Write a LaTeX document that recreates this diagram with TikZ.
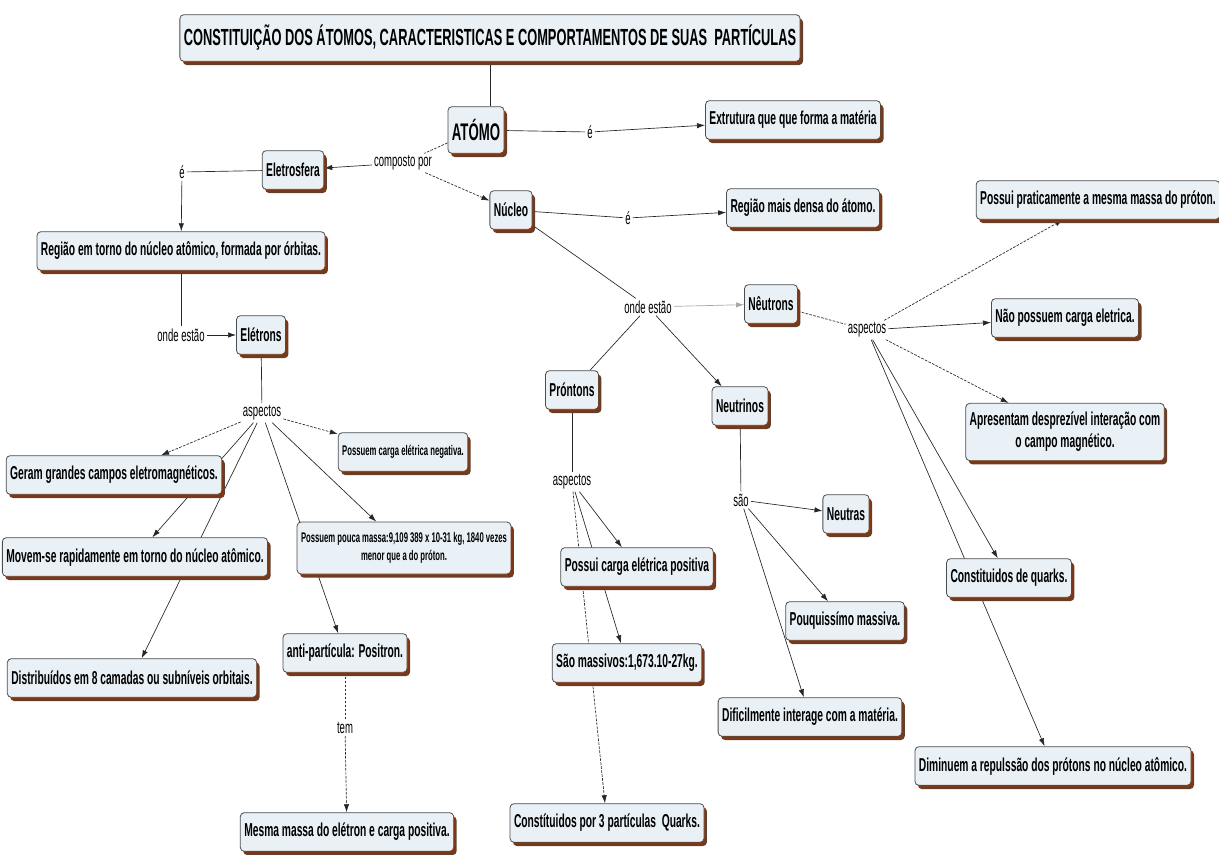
\documentclass[tikz,border=0pt]{standalone}
\usepackage{fontspec}
\setmainfont{Liberation Sans}[FakeStretch=0.55]
\usetikzlibrary{positioning, arrows.meta, shadows}
\definecolor{boxfill}{RGB}{234,241,246}
\definecolor{shadebrown}{RGB}{122,56,22}
\pgfdeclarelayer{bg}
\pgfsetlayers{bg,main}

\begin{document}
\begin{tikzpicture}[x=0.75pt, y=-0.75pt,
    concept/.style={draw=black!70, line width=0.6pt, fill=boxfill,
                    rounded corners=3pt, align=center,
                    drop shadow={shadow xshift=2.2pt, shadow yshift=-2.8pt,
                                 fill=shadebrown, opacity=1},
                    font=\bfseries\fontsize{14}{16.5}\selectfont,
                    inner xsep=3pt, minimum height=29pt},
    smallc/.style={concept, font=\bfseries\fontsize{10.5}{13}\selectfont},
    phrase/.style={font=\fontsize{13}{15}\selectfont, inner sep=1.5pt},
    link/.style={line width=0.5pt, black!85},
    dlink/.style={link, dash pattern=on 2pt off 1pt},
    arw/.style={-{Latex[length=6pt,width=4pt]}},
]
\useasboundingbox (0,0) rectangle (1219,854);

% --- Concepts ---
\node[concept, minimum height=35pt, font=\bfseries\fontsize{17.5}{20}\selectfont]
    (title) at (490, 38)
    {CONSTITUIÇÃO DOS ÁTOMOS, CARACTERISTICAS E COMPORTAMENTOS DE SUAS\ \ PARTÍCULAS};
\node[concept, minimum height=35pt, font=\bfseries\fontsize{18}{20}\selectfont]
    (atomo) at (476, 130) {ATÓMO};
\node[concept] (extrutura) at (793, 120) {Extrutura que que forma a matéria};
\node[concept] (eletrosfera) at (293, 170) {Eletrosfera};
\node[concept] (nucleo) at (511, 210) {Núcleo};
\node[concept] (regdensa) at (803, 208) {Região mais densa do átomo.};
\node[concept] (regiao) at (181, 251)
    {Região em torno do núcleo atômico, formada por órbitas.};
\node[concept] (eletrons) at (261, 335) {Elétrons};
\node[concept] (geram) at (114, 475) {Geram grandes campos eletromagnéticos.};
\node[smallc] (negativa) at (403, 452) {Possuem carga elétrica negativa.};
\node[smallc, minimum height=39pt] (poucamassa) at (404, 548)
    {Possuem pouca massa:9,109 389 x 10-31 kg, 1840 vezes\\menor que a do próton.};
\node[concept] (movem) at (135, 557)
    {Movem-se rapidamente em torno do núcleo atômico.};
\node[concept] (distrib) at (132, 678)
    {Distribuídos em 8 camadas ou subníveis orbitais.};
\node[concept] (anti) at (345, 653) {anti-partícula: Positron.};
\node[concept] (mesma) at (347, 832) {Mesma massa do elétron e carga positiva.};
\node[concept] (neutrons) at (771, 304) {Nêutrons};
\node[concept] (praticamente) at (1098, 200)
    {Possui praticamente a mesma massa do próton.};
\node[concept] (naocarga) at (1065, 318) {Não possuem carga eletrica.};
\node[concept, minimum height=43pt] (apresentam) at (1065, 432)
    {Apresentam desprezível interação com\\o campo magnético.};
\node[concept] (quarks) at (1009, 578) {Constituidos de quarks.};
\node[concept] (diminuem) at (1053, 766)
    {Diminuem a repulssão dos prótons no núcleo atômico.};
\node[concept] (protons) at (572, 390) {Pr\'ontons};
\node[concept] (neutrinos) at (740, 406) {Neutrinos};
\node[concept] (poscarga) at (637, 567) {Possui carga elétrica positiva};
\node[concept] (massivos) at (627, 663) {São massivos:1,673.10-27kg.};
\node[concept] (constit) at (607, 823) {Constítuidos por 3 partículas\ \ Quarks.};
\node[concept] (neutras) at (846, 514) {Neutras};
\node[concept] (pouquissimo) at (845, 621) {Pouquissímo massiva.};
\node[concept] (dificil) at (810, 717) {Dificilmente interage com a matéria.};

% --- Linking phrases ---
\node[phrase] (eA) at (590, 132) {é};
\node[phrase] (composto) at (403, 163) {composto por};
\node[phrase] (eE) at (182, 172) {é};
\node[phrase] (eN) at (628, 218) {é};
\node[phrase] (ondeL) at (181, 335) {onde estão};
\node[phrase] (aspL) at (262, 413) {aspectos};
\node[phrase] (tem) at (345, 728) {tem};
\node[phrase] (ondeR) at (648, 307) {onde estão};
\node[phrase] (aspR) at (867, 330) {aspectos};
\node[phrase] (aspP) at (572, 482) {aspectos};
\node[phrase] (sao) at (741, 500) {são};

% --- Connectors ---
\begin{pgfonlayer}{bg}
\draw[link] (title.south) -- (title.south |- atomo.north);
\draw[link] (atomo) -- (eA);
\draw[link, arw] (eA) -- (extrutura);
\draw[dlink] (atomo) -- (composto);
\draw[link, arw] (composto) -- (eletrosfera);
\draw[dlink, arw] (composto) -- (nucleo);
\draw[link] (eletrosfera) -- (eE);
\draw[link, arw] (eE) -- (regiao);
\draw[link] (regiao) -- (ondeL);
\draw[link, arw] (ondeL) -- (eletrons);
\draw[link] (eletrons) -- (aspL);
\draw[dlink, arw] (aspL) -- (geram);
\draw[dlink, arw] (aspL) -- (negativa);
\draw[link, arw] (aspL) -- (movem);
\draw[link, arw] (aspL) -- (distrib);
\draw[link, arw] (aspL) -- (anti);
\draw[link, arw] (aspL) -- (poucamassa);
\draw[dlink] (anti) -- (tem);
\draw[dlink, arw] (tem) -- (mesma);
\draw[link] (nucleo) -- (eN);
\draw[link, arw] (eN) -- (regdensa);
\draw[link] (nucleo) -- (ondeR);
\draw[link, black!35, arw] (ondeR) -- (neutrons);
\draw[link] (ondeR) -- (protons);
\draw[link, arw] (ondeR) -- (neutrinos);
\draw[dlink] (neutrons) -- (aspR);
\draw[dlink, arw] (aspR) -- (praticamente);
\draw[link, arw] (aspR) -- (naocarga);
\draw[dlink, arw] (aspR) -- (apresentam);
\draw[link, arw] (aspR) -- (quarks);
\draw[link, arw] (aspR) -- (diminuem);
\draw[link] (protons) -- (aspP);
\draw[link, arw] (aspP) -- (poscarga);
\draw[link, arw] (aspP) -- (massivos);
\draw[dlink, arw] (aspP) -- (constit);
\draw[link] (neutrinos) -- (sao);
\draw[link, arw] (sao) -- (neutras);
\draw[link, arw] (sao) -- (pouquissimo);
\draw[link, arw] (sao) -- (dificil);
\end{pgfonlayer}
\end{tikzpicture}
\end{document}
